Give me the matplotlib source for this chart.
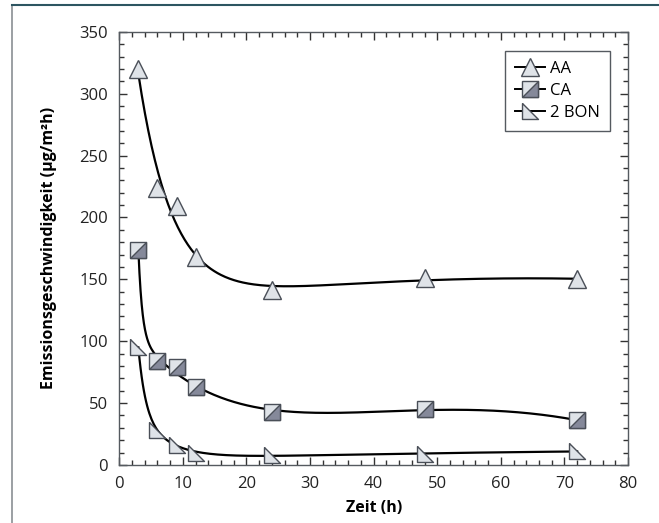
import matplotlib
matplotlib.use("Agg")
import matplotlib.pyplot as plt
from matplotlib.lines import Line2D
from matplotlib.ticker import MultipleLocator
import numpy as np

plt.rcParams['font.family'] = ['Open Sans', 'DejaVu Sans']

# Messwerte (Zeit in h, Emission in µg/m²h)
zeit = [3, 6, 9, 12, 24, 48, 72]
aa = [320, 224, 209, 168, 141, 151, 150]
ca = [174, 84, 79, 63, 43, 45, 36]
bon = [95, 28, 16, 10, 8, 9, 11]

series_names = ['AA', 'CA', '2 BON']

# Halb-Quadrat und rechtwinkliges Dreieck als eigene Marker
half_square = [(-1, -1), (1, -1), (1, 1), (-1, -1)]
right_tri = [(-1, 1), (-1, -1), (1, -1), (-1, 1)]

edge = '#4a4f58'
light = '#dfe3e8'
dark = '#85899a'


def basis(t, taus):
    cols = [np.ones_like(t)] + [np.exp(-t / tau) for tau in taus] + [t, t ** 2]
    return np.column_stack(cols)


def smooth_fit(t, y, n_exp=2):
    # Ausgleichskurve: Exponentialterme + Polynom, tau per Gittersuche
    t = np.asarray(t, float)
    y = np.asarray(y, float)
    grid1 = np.linspace(0.6, 12, 60) if n_exp == 1 else np.linspace(0.6, 4, 35)
    grid2 = [None] if n_exp == 1 else np.linspace(4.5, 20, 32)
    best = None
    for tau1 in grid1:
        for tau2 in grid2:
            taus = [tau1] if tau2 is None else [tau1, tau2]
            A = basis(t, taus)
            coef = np.linalg.lstsq(A, y, rcond=None)[0]
            err = np.sum((A @ coef - y) ** 2)
            if best is None or err < best[0]:
                best = (err, taus, coef)
    _, taus, coef = best
    tt = np.linspace(t.min(), t.max(), 400)
    return tt, basis(tt, taus) @ coef


fig = plt.figure(figsize=(6.59, 5.23), dpi=100)
ax = fig.add_axes([0.181, 0.111, 0.772, 0.828])

for ys, n in ((aa, 1), (ca, 2), (bon, 2)):
    tt, yy = smooth_fit(zeit, ys, n)
    ax.plot(tt, yy, color='black', lw=1.6, zorder=2)

ms = 11.5
ax.plot(zeit, aa, ls='none', marker='^', ms=12.5, mfc=light, mec=edge, mew=1.0, zorder=3)
ax.plot(zeit, ca, ls='none', marker='s', ms=ms, mfc=light, mec=edge, mew=1.0, zorder=3)
ax.plot(zeit, ca, ls='none', marker=half_square, ms=ms, mfc=dark, mec=edge, mew=1.0, zorder=4)
ax.plot(zeit, bon, ls='none', marker=right_tri, ms=ms, mfc=light, mec=edge, mew=1.0, zorder=3)

ax.set_xlim(0, 80)
ax.set_ylim(0, 350)
ax.xaxis.set_major_locator(MultipleLocator(10))
ax.xaxis.set_minor_locator(MultipleLocator(2))
ax.yaxis.set_major_locator(MultipleLocator(50))
ax.yaxis.set_minor_locator(MultipleLocator(10))
ax.tick_params(which='both', direction='in', top=True, right=True, colors='#333333',
               labelsize=12, labelcolor='#222222')
ax.tick_params(which='major', length=6, width=1, pad=8)
ax.tick_params(which='minor', length=3.5, width=1)
for s in ax.spines.values():
    s.set_color('#555a60')
    s.set_linewidth(1.0)

ax.set_xlabel('Zeit (h)', fontsize=11.5, fontweight='bold', labelpad=6)
ax.set_ylabel('Emissionsgeschwindigkeit (µg/m²h)', fontsize=11.5, fontweight='bold', labelpad=16)

# Legende
h_aa = Line2D([], [], color='black', lw=1.4, marker='^', ms=12.5, mfc=light, mec=edge)
h_ca = (Line2D([], [], color='black', lw=1.4, marker='s', ms=ms, mfc=light, mec=edge),
        Line2D([], [], ls='none', marker=half_square, ms=ms, mfc=dark, mec=edge))
h_bon = Line2D([], [], color='black', lw=1.4, marker=right_tri, ms=ms, mfc=light, mec=edge)
leg = ax.legend([h_aa, h_ca, h_bon], series_names, loc='upper right', fontsize=12,
                fancybox=False, edgecolor='#555a60', framealpha=1, handlelength=1.8,
                handletextpad=0.3, borderpad=0.6, labelspacing=0.35,
                bbox_to_anchor=(0.98, 0.975))
leg.get_frame().set_linewidth(1.0)

# Rahmen der Abbildung
fig.add_artist(Line2D([12 / 659, 12 / 659], [0, 1 - 5 / 523], transform=fig.transFigure,
                      color='#8a8f94', lw=1.2))
fig.add_artist(Line2D([12 / 659, 1], [1 - 5 / 523, 1 - 5 / 523], transform=fig.transFigure,
                      color='#2d5561', lw=1.5))

fig.savefig('out.png', dpi=100)
